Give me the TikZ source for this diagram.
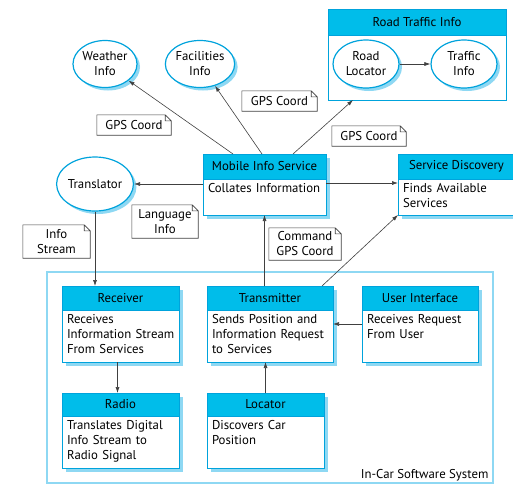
\documentclass[tikz,border=0pt]{standalone}
\usepackage{fontspec}
\setmainfont{PT Sans}
\usetikzlibrary{positioning,shapes.geometric,shadows,arrows.meta}

\definecolor{headblue}{HTML}{00BDEA}
\definecolor{lineblue}{HTML}{00A3DC}
\definecolor{shadeblue}{HTML}{8ED8F3}
\definecolor{arrgray}{HTML}{404040}

\tikzset{
  txt/.style={font=\fontsize{12.8}{15}\selectfont},
  head/.style={txt, draw=lineblue, fill=headblue, line width=1pt, inner sep=0pt, outer sep=0pt},
  body/.style={txt, draw=lineblue, fill=white, line width=1pt, inner xsep=5pt, inner ysep=3pt,
    outer sep=0pt, align=left, text height=10pt},
  shade/.style={drop shadow={shadow xshift=4pt, shadow yshift=-4pt, fill=shadeblue, opacity=1}},
  info/.style={txt, ellipse, draw=lineblue, line width=1.2pt, fill=white, align=center, inner sep=0pt,
    drop shadow={shadow xshift=3pt, shadow yshift=-3pt, fill=shadeblue, opacity=1}},
  note/.style={txt, align=center, inner sep=0pt},
  noteline/.style={draw=arrgray, line width=0.6pt},
  arr/.style={draw=arrgray, line width=0.6pt, -{Latex[length=6pt,width=4pt]}}
}

\newcommand{\notefold}[1]{%
  \draw[noteline] (#1.south west) -- (#1.north west) -- ([xshift=-6pt]#1.north east)
    -- ([yshift=-6pt]#1.north east) -- (#1.south east) -- cycle
    ([xshift=-6pt]#1.north east) |- ([yshift=-6pt]#1.north east);}

\begin{document}
\begin{tikzpicture}[x=1pt,y=-1pt]
\useasboundingbox (0,0) rectangle (513,498);

% in-car system frame
\node[draw=shadeblue, line width=1.2pt, minimum width=446pt, minimum height=211pt] (incar) at (270,377.5) {};
\node[txt, anchor=base east, inner sep=0pt] (incarlabel) at ([xshift=-5pt,yshift=5pt]incar.south east) {In-Car Software System};

% outside services
\node[info, minimum width=64pt, minimum height=47pt] (weather) at (105,64) {Weather\\Info};
\node[info, minimum width=65pt, minimum height=47pt] (facilities) at (200,64) {Facilities\\Info};
\node[info, minimum width=76pt, minimum height=54pt] (translator) at (95,184) {Translator};

\node[head, minimum width=178pt, minimum height=26pt, anchor=north west] (roadh) at (328,9) {Road Traffic Info};
\node[body, minimum width=178pt, minimum height=65pt, below=0pt of roadh] (road) {};
\node[info, minimum width=66pt, minimum height=48pt] (roadloc) at (366,64) {Road\\Locator};
\node[info, minimum width=66pt, minimum height=48pt] (traffic) at (464,64) {Traffic\\Info};

\node[head, shade, minimum width=123pt, minimum height=25pt, anchor=north west] (mobileh) at (203,154) {Mobile Info Service};
\node[body, shade, text width=113pt, text depth=20pt, below=0pt of mobileh] (mobile) {Collates Information};

\node[head, shade, minimum width=117pt, minimum height=25pt, anchor=north west] (serviceh) at (398,154) {Service Discovery};
\node[body, shade, text width=107pt, text depth=20pt, below=0pt of serviceh] (service) {Finds Available\\Services};

% in-car components
\node[head, shade, minimum width=117pt, minimum height=24pt, anchor=north west] (receiverh) at (62,286) {Receiver};
\node[body, shade, text width=107pt, text depth=36pt, below=0pt of receiverh] (receiver) {Receives\\Information~Stream\\From Services};

\node[head, shade, minimum width=126pt, minimum height=24pt, anchor=north west] (transh) at (207,286) {Transmitter};
\node[body, shade, text width=116pt, text depth=36pt, below=0pt of transh] (trans) {Sends Position and\\Information~Request\\to Services};

\node[head, shade, minimum width=116pt, minimum height=24pt, anchor=north west] (userh) at (362,286) {User Interface};
\node[body, shade, text width=106pt, text depth=36pt, below=0pt of userh] (user) {Receives Request\\From User};

\node[head, shade, minimum width=117pt, minimum height=23pt, anchor=north west] (radioh) at (62,393) {Radio};
\node[body, shade, text width=107pt, text depth=36pt, below=0pt of radioh] (radio) {Translates~Digital\\Info Stream to\\Radio Signal};

\node[head, shade, minimum width=117pt, minimum height=23pt, anchor=north west] (locatorh) at (207,393) {Locator};
\node[body, shade, text width=107pt, text depth=36pt, below=0pt of locatorh] (locator) {Discovers Car\\Position};

% notes
\node[note, minimum width=74pt, minimum height=20pt] (gps1) at (134,125) {GPS Coord};
\notefold{gps1}
\node[note, minimum width=75pt, minimum height=20pt] (gps2) at (279.5,101) {GPS Coord};
\notefold{gps2}
\node[note, minimum width=74pt, minimum height=20pt] (gps3) at (369,136) {GPS Coord};
\notefold{gps3}
\node[note, minimum width=66pt, minimum height=33pt] (language) at (165,221.5) {Language\\Info};
\notefold{language}
\node[note, minimum width=67pt, minimum height=33pt] (stream) at (56.5,241.5) {Info\\Stream};
\notefold{stream}
\node[note, minimum width=72pt, minimum height=32pt] (command) at (305,244) {Command\\GPS Coord};
\notefold{command}

% connectors
\draw[arr] ([xshift=30pt]mobileh.north west) -- (weather);
\draw[arr] ([xshift=59pt]mobileh.north west) -- (facilities);
\draw[arr] ([xshift=-33pt]mobileh.north east) -- ([xshift=25pt]road.south west);
\draw[arr] ([yshift=-5pt]mobile.north west) -- (translator.east);
\draw[arr] ([yshift=-4pt]mobile.north east) -- ([yshift=-4pt]service.north west);
\draw[arr] (roadloc) -- (traffic);
\draw[arr] (transh.north -| mobile.south) -- (mobile.south);
\draw[arr] ([xshift=-11pt]transh.north east) -- (service.south west);
\draw[arr] ([yshift=-14pt]user.north west) -- ([yshift=-14pt]trans.north east);
\draw[arr] (locatorh.north) -- (trans.south -| locatorh.north);
\draw[arr] (translator.south) -- (receiverh.north -| translator.south);
\draw[arr] ([xshift=-3pt]receiver.south) -- ([xshift=-3pt]radioh.north);

\end{tikzpicture}
\end{document}
